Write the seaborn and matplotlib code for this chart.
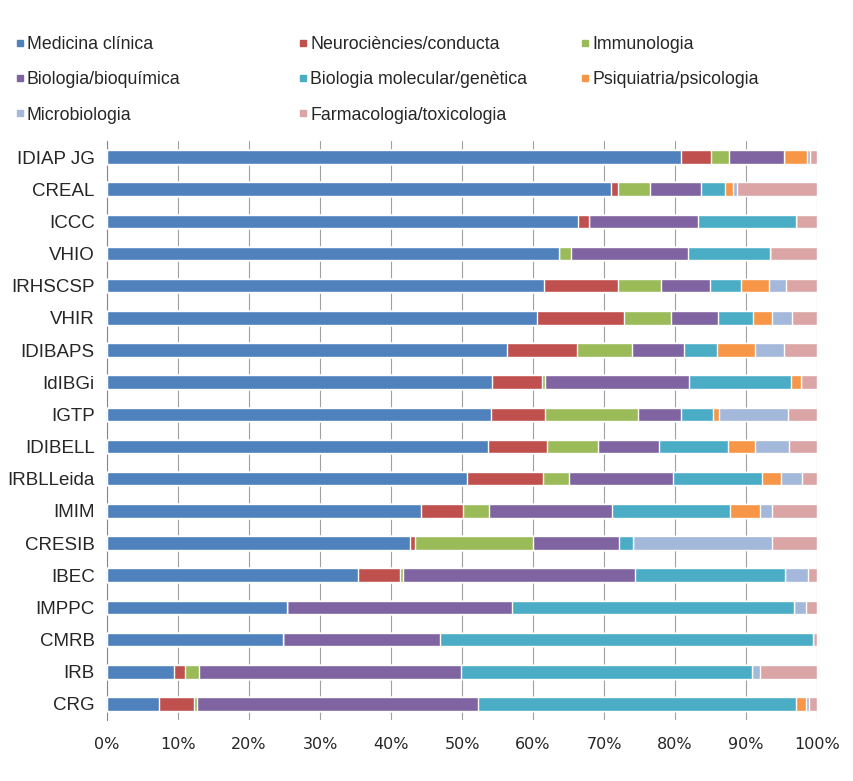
import numpy as np
import pandas as pd
import seaborn as sns
import matplotlib.pyplot as plt
from matplotlib.lines import Line2D

# institutions, top to bottom
institutes = ['IDIAP JG', 'CREAL', 'ICCC', 'VHIO', 'IRHSCSP', 'VHIR', 'IDIBAPS', 'IdIBGi',
              'IGTP', 'IDIBELL', 'IRBLLeida', 'IMIM', 'CRESIB', 'IBEC', 'IMPPC', 'CMRB',
              'IRB', 'CRG']

fields = ['Medicina clínica', 'Neurociències/conducta', 'Immunologia',
          'Biologia/bioquímica', 'Biologia molecular/genètica', 'Psiquiatria/psicologia',
          'Microbiologia', 'Farmacologia/toxicologia']

# share (%) of each field per institution, same order as institutes
medicina = [80.9, 71.0, 66.4, 63.6, 61.5, 60.5, 56.4, 54.2, 54.1, 53.7, 50.7, 44.2, 42.7, 35.4, 25.4, 24.8, 9.4, 7.3]
neuro = [4.1, 1.0, 1.5, 0.0, 10.4, 12.3, 9.8, 7.0, 7.6, 8.3, 10.7, 6.0, 0.7, 5.9, 0.0, 0.0, 1.6, 5.0]
immuno = [2.6, 4.5, 0.0, 1.7, 6.1, 6.7, 7.8, 0.5, 13.1, 7.2, 3.6, 3.6, 16.6, 0.4, 0.0, 0.0, 1.9, 0.4]
bioquim = [7.8, 7.1, 15.3, 16.5, 6.9, 6.6, 7.2, 20.2, 6.0, 8.6, 14.7, 17.3, 12.1, 32.7, 31.7, 22.1, 36.9, 39.6]
molgen = [0.0, 3.5, 13.8, 11.6, 4.4, 4.9, 4.7, 14.4, 4.6, 9.6, 12.5, 16.6, 2.0, 21.1, 39.7, 52.5, 41.0, 44.8]
psiq = [3.2, 1.0, 0.0, 0.0, 3.9, 2.6, 5.3, 1.4, 0.8, 3.8, 2.7, 4.2, 0.0, 0.0, 0.0, 0.0, 0.0, 1.3]
micro = [0.4, 0.6, 0.0, 0.0, 2.4, 2.9, 4.1, 0.0, 9.7, 4.8, 3.0, 1.8, 19.6, 3.2, 1.7, 0.0, 1.1, 0.5]
farma = [1.0, 11.3, 3.0, 6.6, 4.4, 3.5, 4.7, 2.3, 4.1, 4.0, 2.1, 6.3, 6.3, 1.3, 1.5, 0.6, 8.1, 1.1]

colors = ['#4F81BD', '#C0504D', '#9BBB59', '#8064A2', '#4BACC6', '#F79646', '#A3B8DA', '#DCA5A5']

df = pd.DataFrame(dict(zip(fields, [medicina, neuro, immuno, bioquim, molgen, psiq, micro, farma])),
                  index=institutes)
df = df.div(df.sum(axis=1), axis=0) * 100
cum = df.cumsum(axis=1)

fig = plt.figure(figsize=(8.54, 7.81), dpi=100)
sns.set_style('white')
plt.rcParams['font.family'] = ['Liberation Sans', 'DejaVu Sans']
ax = fig.add_axes([0.1253, 0.0781, 0.8314, 0.7414])

# stacked bars: draw cumulative totals from the last field back to the first
for field, c in reversed(list(zip(fields, colors))):
    sns.barplot(x=cum[field].values, y=institutes, color=c, saturation=1, orient='h',
                width=0.42, edgecolor='white', linewidth=1.0, ax=ax, zorder=3)

ax.set_xlim(0, 100)
ax.set_ylim(len(institutes) - 0.5, -0.5)
ax.set_xticks(np.arange(0, 101, 10))
ax.set_xticklabels([f'{v}%' for v in range(0, 101, 10)], fontsize=11.5,
                   family=['DejaVu Sans'])
ax.tick_params(axis='y', labelsize=13.5, length=0, pad=9)
ax.tick_params(axis='x', length=0, pad=12)
ax.set_yticks(np.arange(-0.5, len(institutes)), minor=True)
ax.tick_params(axis='y', which='minor', length=4, color='#888888', direction='out')
ax.grid(axis='x', color='#A0A0A0', linewidth=0.8, zorder=0)
ax.set_axisbelow(True)
ax.set_xlabel('')
ax.set_ylabel('')
for side in ['top', 'right', 'bottom']:
    ax.spines[side].set_visible(False)
ax.spines['left'].set_color('#888888')

# legend in three columns, filled row by row
handles = [Line2D([], [], marker='s', linestyle='', markersize=5, color=c) for c in colors]
cols = [[0, 3, 6], [1, 4, 7], [2, 5]]
xs = [0.018, 0.350, 0.680]
for idx, x0 in zip(cols, xs):
    fig.legend([handles[i] for i in idx], [fields[i] for i in idx], loc='upper left',
               bbox_to_anchor=(x0, 0.954), frameon=False, fontsize=12.8, handlelength=0.5,
               handletextpad=0.15, labelspacing=1.03, borderaxespad=0, borderpad=0)

fig.savefig('out.png', dpi=100)
